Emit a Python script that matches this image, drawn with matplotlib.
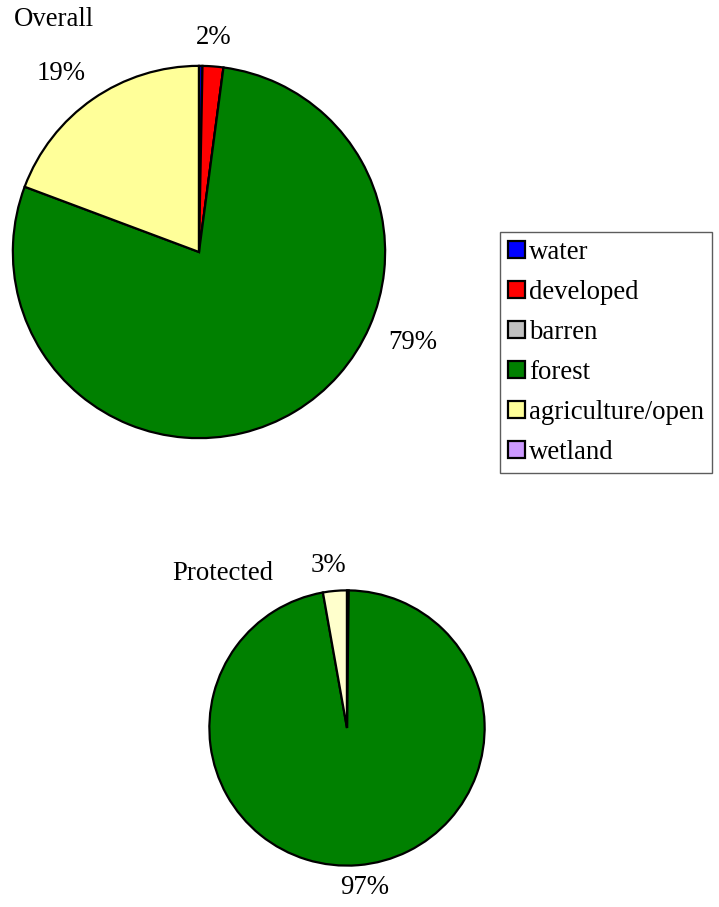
import matplotlib
matplotlib.use("Agg")
import matplotlib.pyplot as plt
from matplotlib.patches import Patch

plt.rcParams['font.family'] = ['Liberation Serif', 'DejaVu Serif']

categories = ["water", "developed", "barren", "forest", "agriculture/open", "wetland"]
overall = [0.3, 1.8, 0.0, 78.6, 19.3, 0.0]
protected = [0.2, 0.0, 0.0, 97.0, 2.8, 0.0]
colors_overall = ["#0000FF", "#FF0000", "#C0C0C0", "#008000", "#FFFF99", "#CC99FF"]
colors_protected = ["#0000FF", "#FF0000", "#C0C0C0", "#008000", "#FFFFCC", "#CC99FF"]
legend_colors = ["#0000FF", "#FF0000", "#C0C0C0", "#008000", "#FFFF99", "#CC99FF"]

W, H = 719, 907
fig = plt.figure(figsize=(W / 100, H / 100), dpi=100)
FS = 19.3

def px_axes(x0, y0, x1, y1):
    return fig.add_axes([x0 / W, 1 - y1 / H, (x1 - x0) / W, (y1 - y0) / H])

def draw_pie(ax, vals, cols):
    ax.pie(vals, colors=cols, startangle=90, counterclock=False,
           wedgeprops=dict(edgecolor="black", linewidth=1.6),
           radius=1.0)
    ax.set_xlim(-1.01, 1.01)
    ax.set_ylim(-1.01, 1.01)
    ax.set_aspect("equal")
    ax.axis("off")

ax1 = px_axes(11, 64, 387, 440)
draw_pie(ax1, overall, colors_overall)
ax2 = px_axes(208, 589, 486, 867)
draw_pie(ax2, protected, colors_protected)

def ftext(x, y, s, **kw):
    fig.text(x / W, 1 - y / H, s, fontsize=FS, ha="center", va="center", **kw)

# titles
fig.text(14 / W, 1 - 20 / H, "Overall", fontsize=FS, ha="left", va="center")
fig.text(172 / W, 1 - 573 / H, "Protected", fontsize=FS, ha="left", va="center")

# percentage labels (pixel positions of label centres)
overall_label_pos = {1: (214, 38), 3: (413, 343), 4: (61, 73)}
protected_label_pos = {3: (365, 887), 4: (328, 566)}
tot1 = sum(overall)
for i, v in enumerate(overall):
    p = round(100 * v / tot1)
    if p >= 1 and i in overall_label_pos:
        ftext(*overall_label_pos[i], f"{p}%")
tot2 = sum(protected)
for i, v in enumerate(protected):
    p = round(100 * v / tot2)
    if p >= 1 and i in protected_label_pos:
        ftext(*protected_label_pos[i], f"{p}%")

handles = [Patch(facecolor=c, edgecolor="black", linewidth=1.6) for c in legend_colors]
leg = fig.legend(handles, categories, loc="upper left",
                 bbox_to_anchor=(500 / W, 1 - 232 / H),
                 fontsize=FS, frameon=True, fancybox=False,
                 edgecolor="#333333", borderpad=0.3, labelspacing=0.56,
                 handlelength=0.62, handleheight=0.62, handletextpad=0.15,
                 borderaxespad=0.0)
leg.get_frame().set_linewidth(1.0)

fig.savefig("out.png", dpi=100)
